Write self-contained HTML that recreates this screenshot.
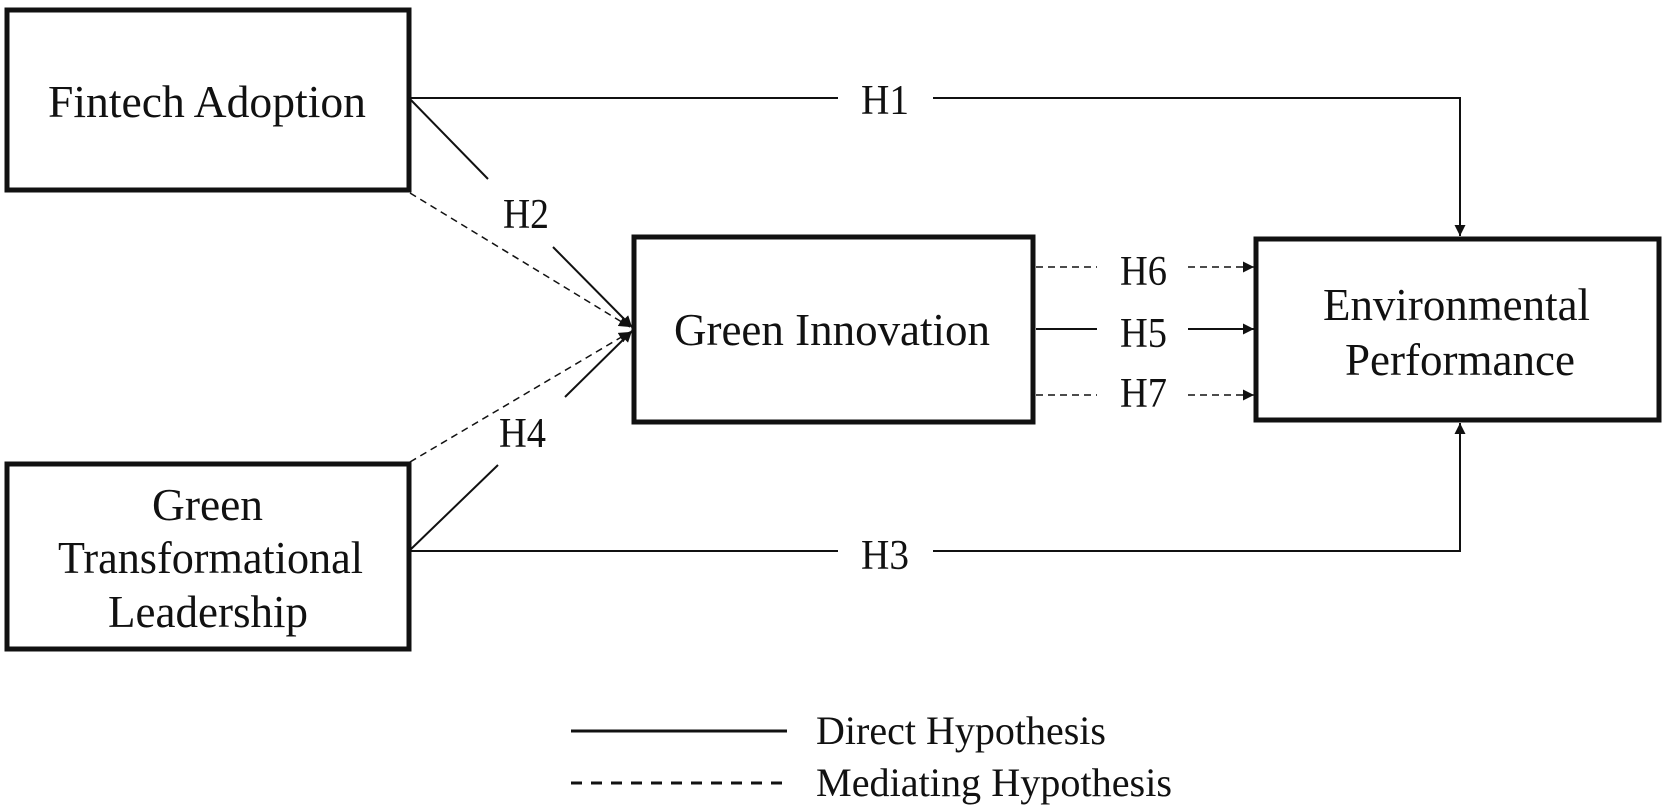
<!DOCTYPE html>
<html><head><meta charset="utf-8"><style>
html,body{margin:0;padding:0;background:#fff;}
svg{display:block;}
text{font-family:"Liberation Serif",serif;fill:#111;}
</style></head><body>
<svg width="1667" height="806" viewBox="0 0 1667 806" xmlns="http://www.w3.org/2000/svg">
<defs>
<marker id="a" viewBox="0 0 10 10" refX="10" refY="5" markerWidth="11" markerHeight="11" markerUnits="userSpaceOnUse" orient="auto"><path d="M0,0 L10,5 L0,10 z" fill="#111"/></marker>
</defs>
<g fill="none" stroke="#111" stroke-width="5">
<rect x="7" y="10" width="402" height="180"/>
<rect x="7" y="464" width="402" height="185"/>
<rect x="634" y="237" width="399" height="185"/>
<rect x="1256" y="239" width="403" height="181"/>
</g>
<g fill="none" stroke="#111" stroke-width="2">
<path d="M409,98 H838"/>
<path d="M933,98 H1460 V236" marker-end="url(#a)"/>
<path d="M409,551 H838"/>
<path d="M933,551 H1460 V423" marker-end="url(#a)"/>
<path d="M409,98 L488,179"/>
<path d="M553,247 L632,327" marker-end="url(#a)"/>
<path d="M409,551 L498,465"/>
<path d="M565,397 L632,331" marker-end="url(#a)"/>
<path d="M1036,329 H1097"/>
<path d="M1188,329 H1254" marker-end="url(#a)"/>
</g>
<g fill="none" stroke="#111" stroke-width="1.5" stroke-dasharray="7,5">
<path d="M410,193 L630,327" marker-end="url(#a)"/>
<path d="M410,462 L630,332" marker-end="url(#a)"/>
<path d="M1036,267 H1097"/>
<path d="M1188,267 H1254" marker-end="url(#a)"/>
<path d="M1036,395 H1097"/>
<path d="M1188,395 H1254" marker-end="url(#a)"/>
</g>
<g font-size="46">
<text x="48" y="117" textLength="318" lengthAdjust="spacingAndGlyphs">Fintech Adoption</text>
<text x="674" y="345" textLength="316" lengthAdjust="spacingAndGlyphs">Green Innovation</text>
<text x="1323" y="320" textLength="267" lengthAdjust="spacingAndGlyphs">Environmental</text>
<text x="1345" y="375" textLength="230" lengthAdjust="spacingAndGlyphs">Performance</text>
<text x="152" y="520" textLength="111" lengthAdjust="spacingAndGlyphs">Green</text>
<text x="58" y="573" textLength="305" lengthAdjust="spacingAndGlyphs">Transformational</text>
<text x="108" y="627" textLength="200" lengthAdjust="spacingAndGlyphs">Leadership</text>
</g>
<g font-size="42">
<text x="861" y="114" textLength="48" lengthAdjust="spacingAndGlyphs">H1</text>
<text x="861" y="569" textLength="48" lengthAdjust="spacingAndGlyphs">H3</text>
<text x="503" y="228" textLength="46" lengthAdjust="spacingAndGlyphs">H2</text>
<text x="499" y="447" textLength="47" lengthAdjust="spacingAndGlyphs">H4</text>
<text x="1120" y="285" textLength="47" lengthAdjust="spacingAndGlyphs">H6</text>
<text x="1120" y="347" textLength="47" lengthAdjust="spacingAndGlyphs">H5</text>
<text x="1120" y="407" textLength="47" lengthAdjust="spacingAndGlyphs">H7</text>
</g>
<path d="M571,731 H787" stroke="#111" stroke-width="3"/>
<path d="M571,783 H787" stroke="#111" stroke-width="3" stroke-dasharray="11,9"/>
<g font-size="40">
<text x="816" y="744" textLength="290" lengthAdjust="spacingAndGlyphs">Direct Hypothesis</text>
<text x="816" y="796" textLength="356" lengthAdjust="spacingAndGlyphs">Mediating Hypothesis</text>
</g>
</svg>
</body></html>
